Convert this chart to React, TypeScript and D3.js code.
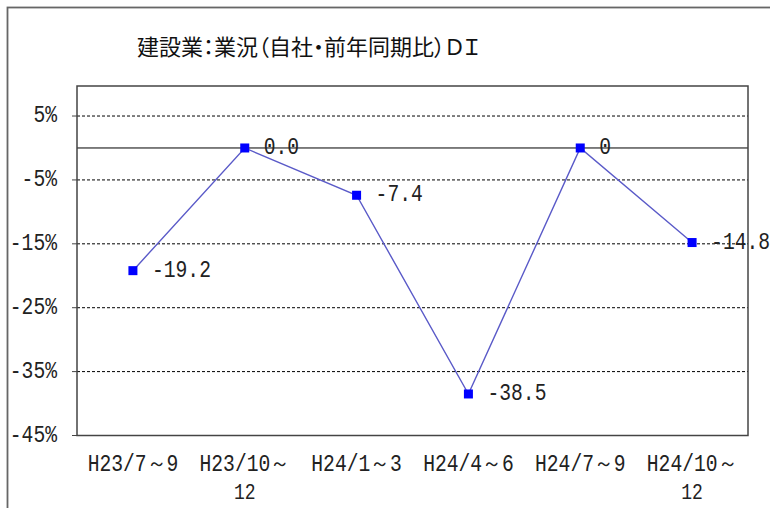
import * as d3 from 'd3';

const categories = ['H23/7～9', 'H23/10～12', 'H24/1～3', 'H24/4～6', 'H24/7～9', 'H24/10～12'];
const categoryLines = [['H23/7～9'], ['H23/10～', '12'], ['H24/1～3'], ['H24/4～6'], ['H24/7～9'], ['H24/10～', '12']];
const values = [-19.2, 0.0, -7.4, -38.5, 0, -14.8];
const valueLabels = ['-19.2', '0.0', '-7.4', '-38.5', '0', '-14.8'];
const yTicks = [5, -5, -15, -25, -35, -45];
const title = '建設業：業況（自社・前年同期比）ＤＩ';

const width = 770;
const height = 508;
const plotLeft = 77;
const plotRight = 748;
const plotTop = 86;
const plotBottom = 435.5;

const monoFont = '"Liberation Mono", "DejaVu Sans Mono", monospace';

// tall narrow mono text, like the original gothic font
const Narrow = ({ x, y, anchor = 'start', size = 24, children }) => (
  <g transform={`translate(${x},${y}) scale(0.82,1)`}>
    <text
      textAnchor={anchor}
      dominantBaseline="central"
      fontFamily={monoFont}
      fontSize={size}
      fill="#222"
    >
      {children}
    </text>
  </g>
);

export default function App() {
  const x = d3.scaleBand().domain(categories).range([plotLeft, plotRight]);
  const y = d3.scaleLinear().domain([-45, 9.7]).range([plotBottom, plotTop]);
  const cx = (i: number) => (x(categories[i]) as number) + x.bandwidth() / 2;

  const line = d3
    .line<number>()
    .x((_, i) => cx(i))
    .y((d) => y(d));

  return (
    <svg
      width={width}
      height={height}
      viewBox={`0 0 ${width} ${height}`}
      style={{ position: 'absolute', left: 0, top: 0, background: '#fff' }}
    >
      <rect x={0} y={0} width={width} height={height} fill="#fff" />
      {/* chart frame, runs past the picture edge */}
      <rect x={7.5} y={7.5} width={820} height={540} fill="none" stroke="#666" strokeWidth={1.8} />

      <text
        x={137}
        y={45}
        dominantBaseline="central"
        fontFamily='"Noto Sans CJK JP", sans-serif'
        fontSize={22}
        fill="#111"
        style={{ fontFeatureSettings: '"palt"' }}
      >
        {title}
      </text>

      {/* grid */}
      {yTicks
        .filter((t) => t > -45)
        .map((t) => (
          <line
            key={t}
            x1={plotLeft}
            x2={plotRight}
            y1={y(t)}
            y2={y(t)}
            stroke="#000"
            strokeWidth={1}
            strokeDasharray="3,2"
          />
        ))}
      <line x1={plotLeft} x2={plotRight} y1={y(0)} y2={y(0)} stroke="#000" strokeWidth={1} />

      <rect
        x={plotLeft}
        y={plotTop}
        width={plotRight - plotLeft}
        height={plotBottom - plotTop}
        fill="none"
        stroke="#444"
        strokeWidth={1.5}
      />

      {/* y axis */}
      {yTicks.map((t) => (
        <g key={t}>
          <line x1={plotLeft - 5} x2={plotLeft} y1={y(t)} y2={y(t)} stroke="#444" strokeWidth={1} />
          <Narrow x={57} y={y(t)} anchor="end">{`${t}%`}</Narrow>
        </g>
      ))}

      {/* x axis labels */}
      {categoryLines.map((lines, i) =>
        lines.map((s, j) => (
          <Narrow key={`${i}-${j}`} x={cx(i)} y={465 + j * 28} anchor="middle" size={j ? 22 : 24}>
            {s}
          </Narrow>
        ))
      )}

      <path d={line(values) as string} fill="none" stroke="#5a5ac8" strokeWidth={1.4} />

      {values.map((v, i) => (
        <rect key={i} x={cx(i) - 4.5} y={y(v) - 4.5} width={9} height={9} fill="#0000ff" />
      ))}

      {values.map((v, i) => (
        <Narrow key={i} x={cx(i) + 19} y={y(v)}>
          {valueLabels[i]}
        </Narrow>
      ))}
    </svg>
  );
}
